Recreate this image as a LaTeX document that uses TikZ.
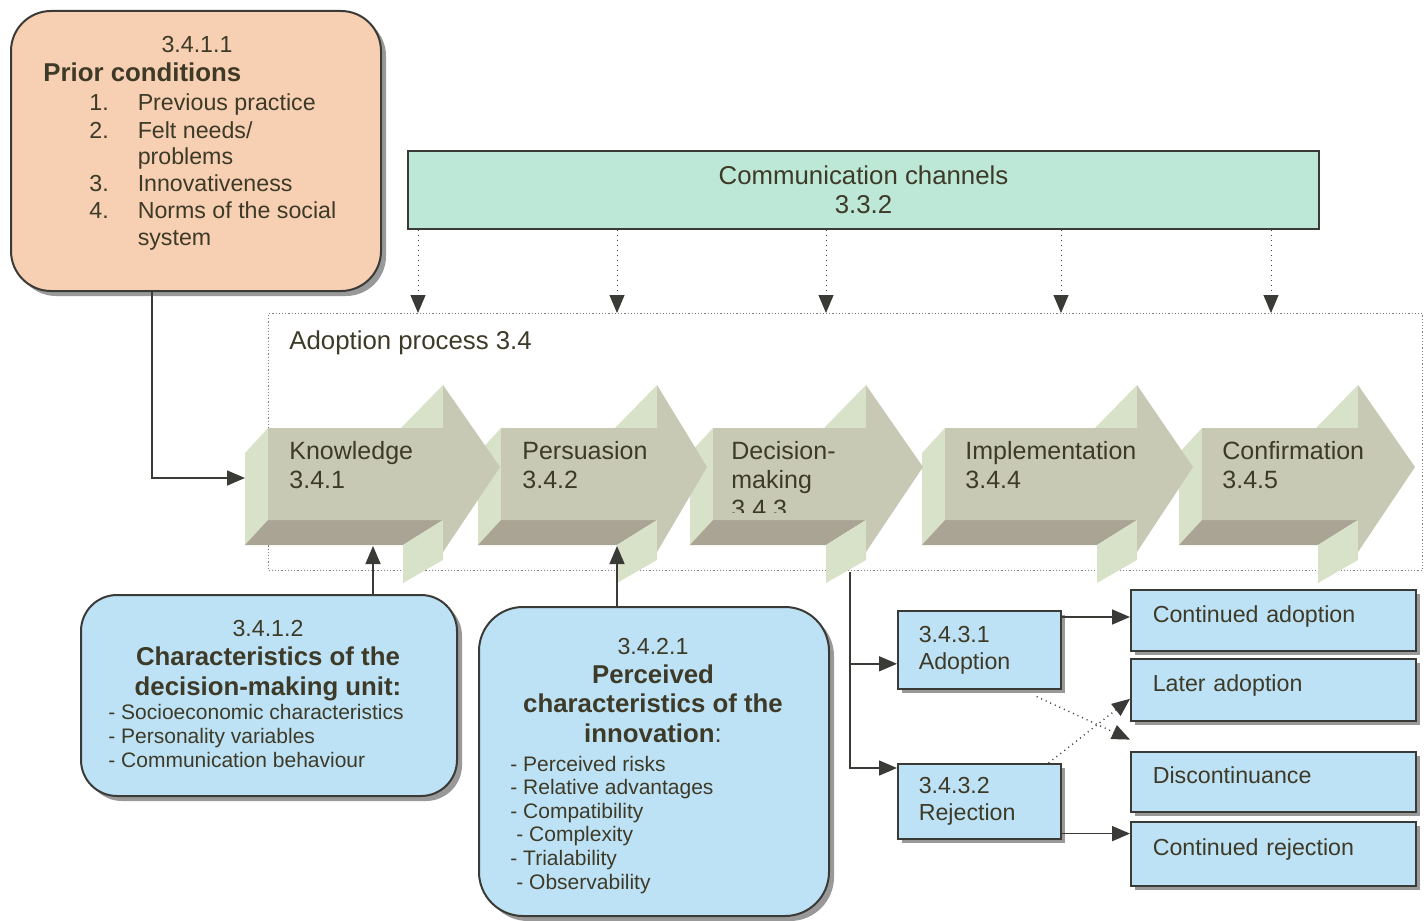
\documentclass[tikz,border=0pt]{standalone}
\usepackage{fontspec}
\setmainfont{Liberation Sans}
\usepackage{xcolor}
\usepackage{tikz}
\usetikzlibrary{arrows.meta,shadows}

\definecolor{ink}{HTML}{3D3A28}
\definecolor{edge}{HTML}{3A3A36}
\definecolor{peach}{HTML}{F7CFB2}
\definecolor{mint}{HTML}{BDE7D6}
\definecolor{skyblue}{HTML}{BEE2F5}
\definecolor{arrface}{HTML}{C7C9B5}
\definecolor{arrside}{HTML}{D8E2C8}
\definecolor{arrbase}{HTML}{A9A493}

\newcommand{\fhead}{\fontsize{12.9}{14.75}\selectfont}
\newcommand{\fbody}{\fontsize{11.6}{13.5}\selectfont}
\newcommand{\fsmall}{\fontsize{10.5}{11.8}\selectfont}
\newcommand{\fstage}{\fontsize{12.5}{14.5}\selectfont}

\tikzstyle{txt} = [inner sep=0pt]
\tikzstyle{stage} = [txt, anchor=base west, align=left, font=\fstage]
\tikzstyle{link} = [draw=edge, line width=0.8pt, -{Triangle[width=7.5pt,length=9pt]}]
\tikzstyle{chan} = [link, line width=0.5pt, dotted]
\tikzstyle{card} = [draw=edge, line width=1pt, rounded corners=18pt, anchor=north west,
  drop shadow={shadow xshift=2.5pt,shadow yshift=-2.5pt,fill=black!50,opacity=0.8}]
\tikzstyle{tag} = [draw=edge, line width=0.8pt, fill=skyblue, anchor=north west,
  align=left, inner xsep=10.5pt, text width=60.5pt,
  drop shadow={shadow xshift=2pt,shadow yshift=-2pt,fill=black!50,opacity=0.8}]
\tikzstyle{outbox} = [tag, inner xsep=11pt, text width=120.5pt, text height=8.5pt, text depth=6.5pt]

\begin{document}
\begin{tikzpicture}[x=0.5pt, y=-0.5pt, font=\fbody, text=ink]
    \useasboundingbox (0,0) rectangle (1428,920);

    % prior conditions
    \node[card, fill=peach, rounded corners=20pt, minimum width=185pt, minimum height=140pt] (prior) at (10,10) {};
    \node[txt, anchor=base] (priornum) at (197,53) {3.4.1.1};
    \node[txt, anchor=base west, font=\fhead\bfseries] (priortitle) at (43,82) {Prior conditions};
    \node[txt, anchor=base west] (priorlist) at (89,111) {\begin{tabular}[t]{@{}r@{\hspace{14.5pt}}l@{}}
        1. & Previous practice\\
        2. & Felt needs/\\
           & problems\\
        3. & Innovativeness\\
        4. & Norms of the social\\
           & system
    \end{tabular}};

    % communication channels
    \node[draw=edge, line width=1pt, fill=mint, anchor=north west, minimum width=455.5pt, minimum height=39pt,
        align=center, font=\fhead] (comm) at (407,150) {Communication channels\\3.3.2};

    % adoption process frame
    \node[draw=gray, line width=0.6pt, densely dotted, anchor=north west, minimum width=577pt, minimum height=128.5pt] (proc) at (268,313) {};
    \node[txt, anchor=base west, font=\fhead] (proctitle) at (289,349) {Adoption process 3.4};

    \foreach \cx in {418,617,826,1061,1271}
        \draw[chan] (\cx,0 |- comm.south) -- (\cx,0 |- proc.north);

    % stage arrows, right to left
    \foreach \xo/\xb/\xt in {1202/1358/1415, 945/1137/1193, 713/866/923, 501/657/707, 268/443/500} {
        \fill[arrside] (\xo,428) -- ({\xo-23},453) -- ({\xo-23},545) -- (\xo,520) -- cycle;
        \fill[arrbase] (\xo,520) -- (\xb,520) -- ({\xb-40},545) -- ({\xo-23},545) -- cycle;
        \fill[arrside] ({\xb-42},428) -- (\xb,385) -- (\xb,428) -- cycle;
        \fill[arrside] (\xb,520) -- (\xb,560) -- ({\xb-40},583) -- ({\xb-40},545) -- cycle;
        \fill[arrface] (\xo,428) -- (\xb,428) -- (\xb,385) -- (\xt,467) -- (\xb,552) -- (\xb,520) -- (\xo,520) -- cycle;
    }
    \coordinate (kin) at (245,478);
    \coordinate (kbot) at (373,546);
    \coordinate (pbot) at (617,546);
    \coordinate (dbot) at (850,572);

    % labels sit on their last baseline
    \node[stage] (know) at (289,488) {Knowledge\\3.4.1};
    \node[stage] (pers) at (522,488) {Persuasion\\3.4.2};
    \begin{scope}
        \clip (700,380) rectangle (880,512);
        \node[stage] (deci) at (731,517) {Decision-\\making\\3.4.3};
    \end{scope}
    \node[stage] (impl) at (965,488) {Implementation\\3.4.4};
    \node[stage] (conf) at (1222,488) {Confirmation\\3.4.5};

    % decision-making unit
    \node[card, fill=skyblue, minimum width=188pt, minimum height=100.5pt] (unit) at (80,594) {};
    \node[txt, anchor=base] (unitnum) at (268,636) {3.4.1.2};
    \node[txt, anchor=base, align=center, font=\fhead\bfseries] (unittitle) at (268,695) {Characteristics of the\\decision-making unit:};
    \node[txt, anchor=base west, align=left, font=\fsmall] (unitlist) at (108,767) {- Socioeconomic characteristics\\- Personality variables\\- Communication behaviour};

    % perceived characteristics
    \node[card, fill=skyblue, rounded corners=22pt, minimum width=175pt, minimum height=154.5pt] (innov) at (478,606) {};
    \node[txt, anchor=base] (innovnum) at (653,654) {3.4.2.1};
    \node[txt, anchor=base, align=center, font=\fhead] (innovtitle) at (653,742) {\textbf{Perceived}\\\textbf{characteristics of the}\\\textbf{innovation}:};
    \node[txt, anchor=base west, align=left, font=\fsmall] (innovlist) at (510,889) {- Perceived risks\\- Relative advantages\\- Compatibility\\\hspace*{3pt}- Complexity\\- Trialability\\\hspace*{3pt}- Observability};

    % decision outcomes
    \node[tag, minimum height=39pt] (adoptb) at (897,610) {3.4.3.1\\Adoption};
    \node[tag, minimum height=37.5pt] (rejb) at (897,763) {3.4.3.2\\Rejection};
    \node[outbox, minimum height=30.5pt] (cont) at (1130,589) {Continued adoption};
    \node[outbox, minimum height=31pt] (later) at (1130,658) {Later adoption};
    \node[outbox, minimum height=30pt] (disc) at (1130,751) {Discontinuance};
    \node[outbox, minimum height=32pt] (contrej) at (1130,821) {Continued rejection};
    \coordinate (aout) at ([yshift=-3.5pt]adoptb.north east);
    \coordinate (rout) at ([yshift=3pt]rejb.south east);

    % connectors
    \draw[link] (152,0 |- prior.south) |- (kin);
    \draw[link] (373,0 |- unit.north) -- (kbot);
    \draw[link] (617,0 |- innov.north) -- (pbot);
    \draw[link] (dbot) |- ([yshift=-7pt]adoptb.west);
    \draw[link] (dbot) |- ([yshift=-2.5pt]rejb.north west);
    \draw[link] (aout) -- (aout -| cont.west);
    \draw[link] (rout) -- (rout -| contrej.west);
    \draw[chan, line width=0.7pt] ([xshift=-12.5pt,yshift=-3.5pt]adoptb.south east) -- ([yshift=-9pt]later.south west);
    \draw[chan, line width=0.7pt] ([xshift=-6.5pt]rejb.north east) -- ([yshift=-4.5pt]later.west);
\end{tikzpicture}
\end{document}
